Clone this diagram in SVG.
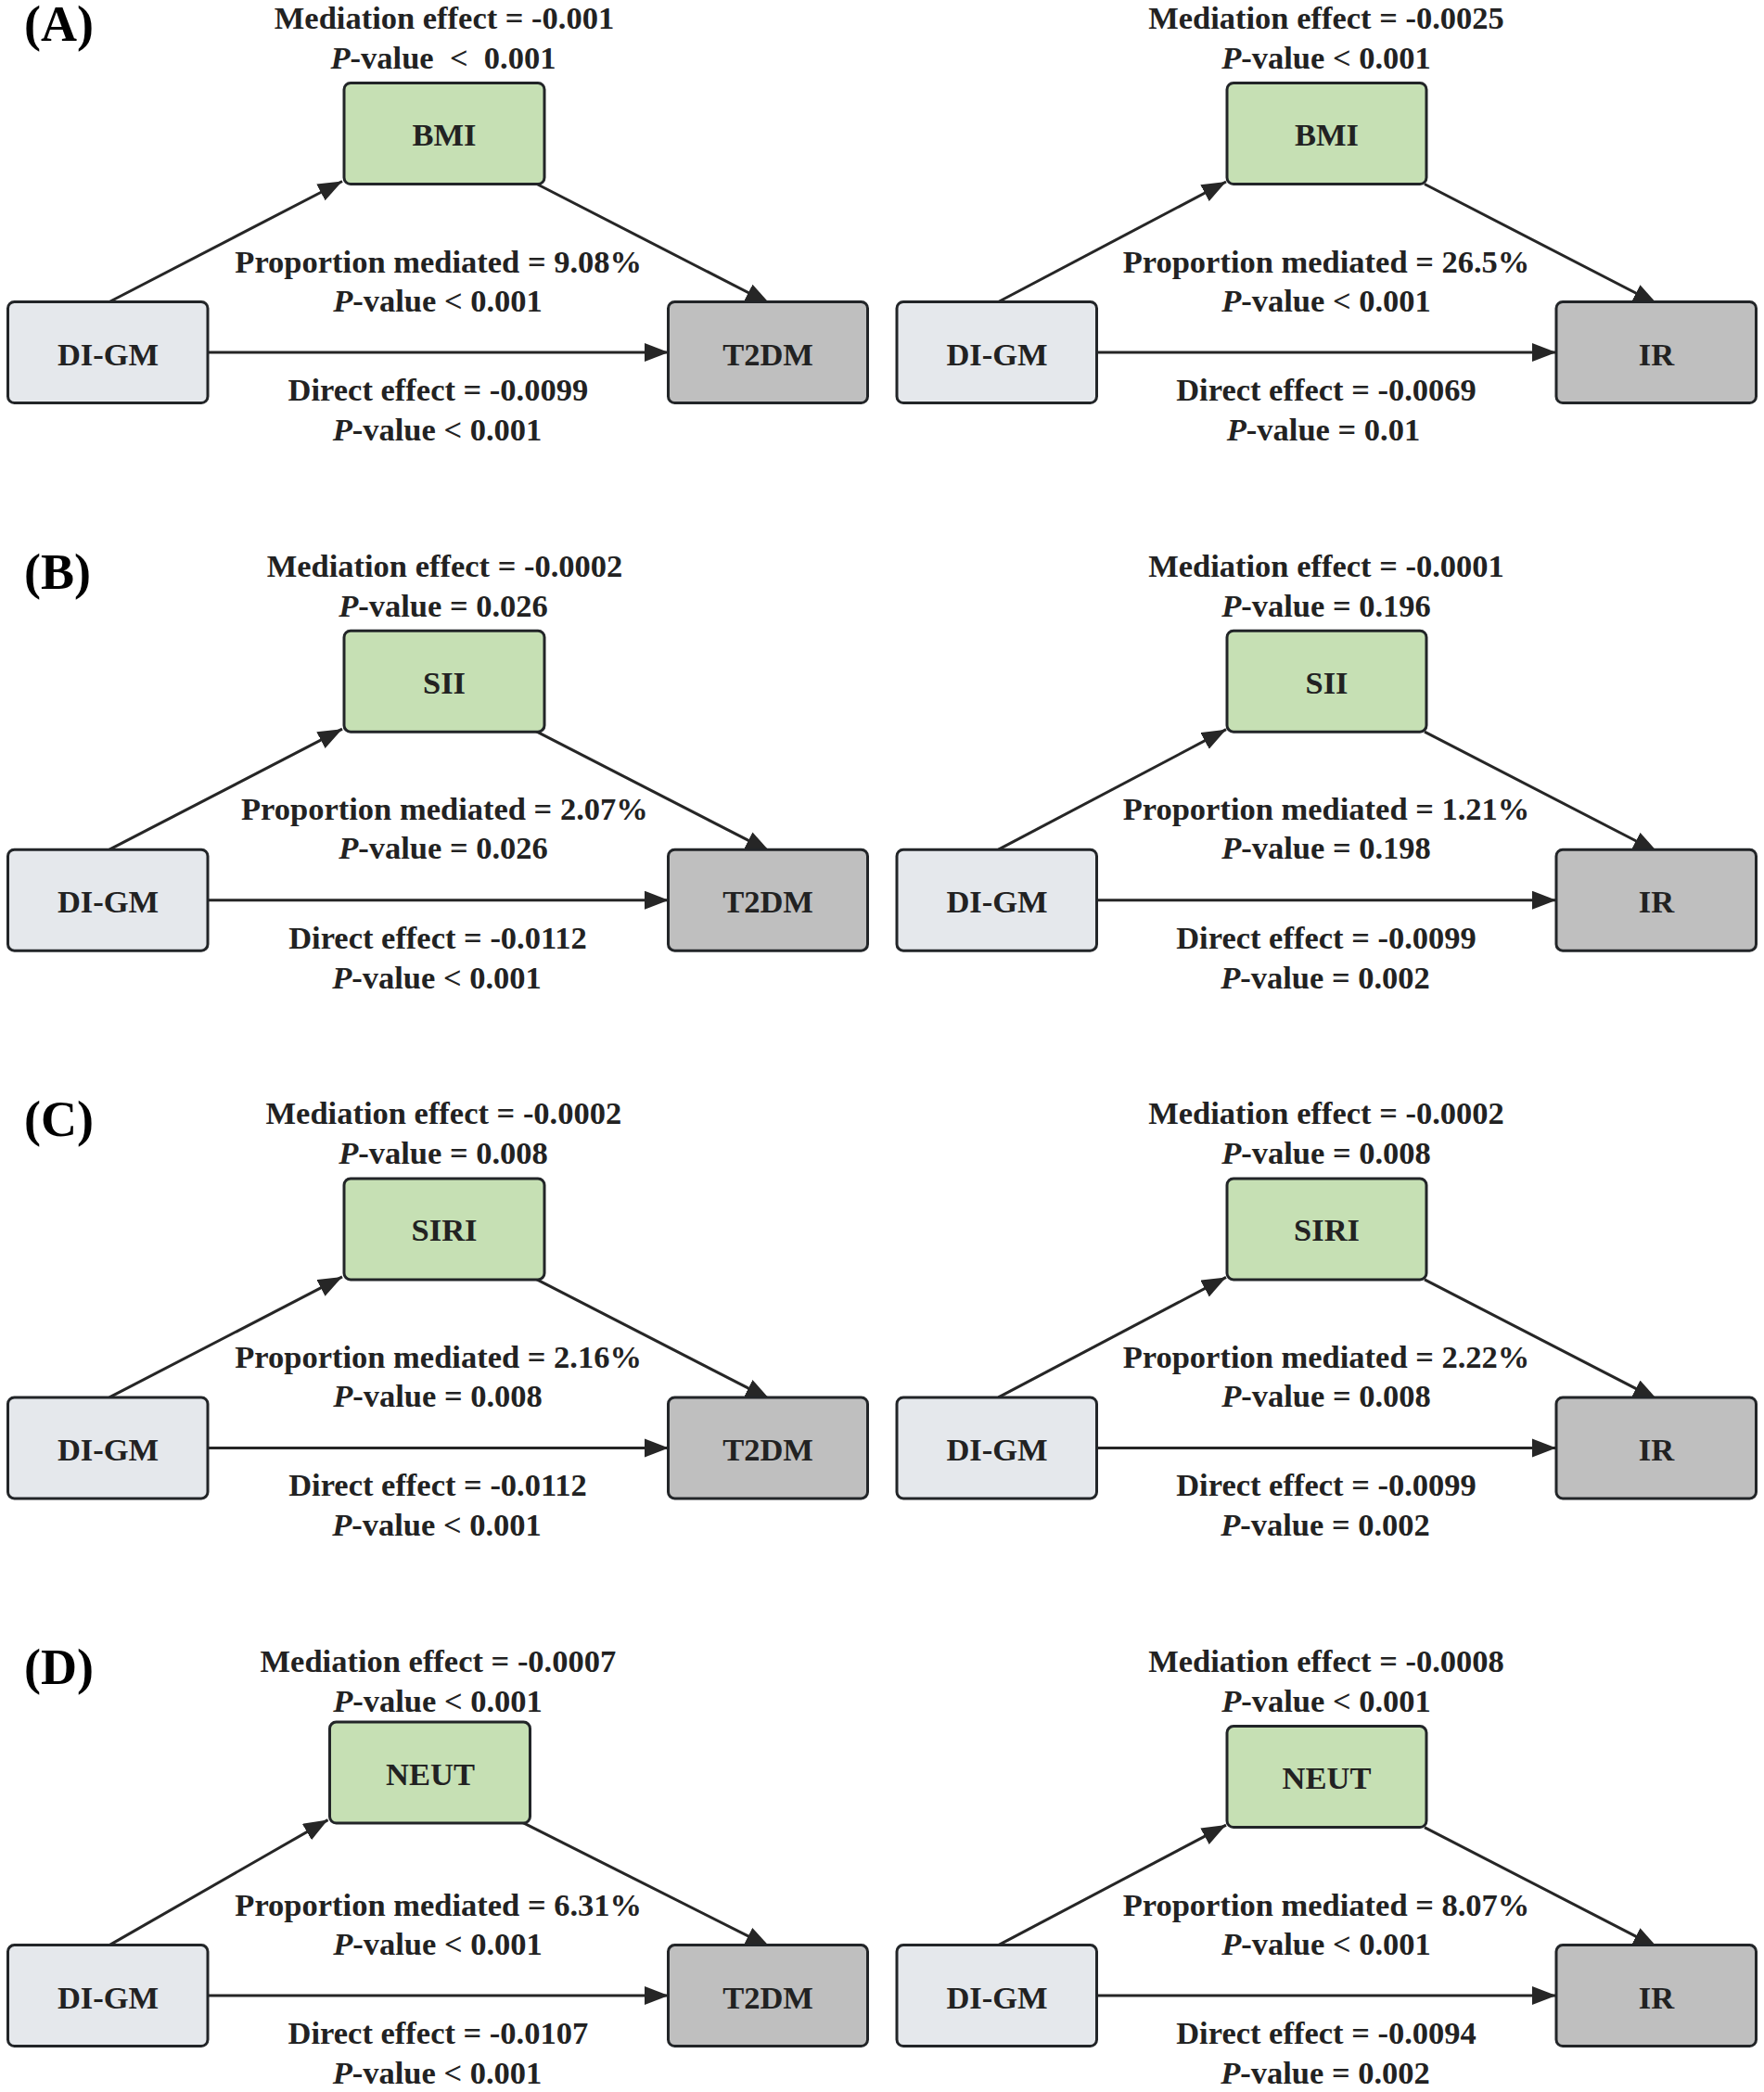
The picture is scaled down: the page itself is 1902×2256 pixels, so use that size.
<svg xmlns="http://www.w3.org/2000/svg" width="1902" height="2256" viewBox="0 0 1902 2256">
<defs>
<style>
.box{stroke:#222528;stroke-width:3}
.m{fill:#c6e0b4}
.x{fill:#e5e8ec}
.y{fill:#bfbfbf}
text{font-family:"Liberation Serif","Times New Roman",serif;font-weight:bold;fill:#222}
.t{font-size:34.5px;text-anchor:middle}
.pl{font-size:54px;fill:#000}
.c{stroke:#262626;stroke-width:3;fill:none;marker-end:url(#ah)}
.i{font-style:italic}
</style>
<marker id="ah" markerUnits="userSpaceOnUse" markerWidth="28" markerHeight="21" refX="26" refY="10" orient="auto">
<path d="M0,0 L26,10 L0,20 z" fill="#262626"/>
</marker>
</defs>
<rect width="1902" height="2256" fill="#fff"/>

<!-- Panel labels -->
<g id="panel-labels">
<text class="pl" x="26" y="44">(A)</text>
<text class="pl" x="26" y="635">(B)</text>
<text class="pl" x="26" y="1225">(C)</text>
<text class="pl" x="26" y="1816">(D)</text>
</g>

<!-- Connectors -->
<g id="connectors">
<g transform="translate(0,0)">
<path class="c" d="M224,380 L721,380"/>
<path class="c" d="M118,325.5 L369,195.5"/>
<path class="c" d="M578,198 L830,327.5"/>
<path class="c" d="M1182.5,380 L1678,380"/>
<path class="c" d="M1076.5,325.5 L1322,196"/>
<path class="c" d="M1536,198.5 L1787,328"/>
</g>
<g transform="translate(0,590.7)">
<path class="c" d="M224,380 L721,380"/>
<path class="c" d="M118,325.5 L369,195.5"/>
<path class="c" d="M578,198 L830,327.5"/>
<path class="c" d="M1182.5,380 L1678,380"/>
<path class="c" d="M1076.5,325.5 L1322,196"/>
<path class="c" d="M1536,198.5 L1787,328"/>
</g>
<g transform="translate(0,1181.4)">
<path class="c" d="M224,380 L721,380"/>
<path class="c" d="M118,325.5 L369,195.5"/>
<path class="c" d="M578,198 L830,327.5"/>
<path class="c" d="M1182.5,380 L1678,380"/>
<path class="c" d="M1076.5,325.5 L1322,196"/>
<path class="c" d="M1536,198.5 L1787,328"/>
</g>
<g transform="translate(0,1772.1)">
<path class="c" d="M224,380 L721,380"/>
<path class="c" d="M118,325.5 L353.5,190.5"/>
<path class="c" d="M563,193 L830,327.5"/>
<path class="c" d="M1182.5,380 L1678,380"/>
<path class="c" d="M1076.5,325.5 L1322,196"/>
<path class="c" d="M1536,198.5 L1787,328"/>
</g>
</g>

<!-- Row A -->
<g id="rowA">
<g id="A-L-DIGM"><rect class="box x" x="8.5" y="325.5" width="215.5" height="109" rx="7"/><text class="t" x="116.5" y="393.5">DI-GM</text></g>
<g id="A-L-T2DM"><rect class="box y" x="720.5" y="325.5" width="215" height="109" rx="7"/><text class="t" x="828" y="393.5">T2DM</text></g>
<g id="A-L-BMI"><rect class="box m" x="371" y="89.5" width="216" height="109" rx="7"/><text class="t" x="479" y="157">BMI</text></g>
<g id="A-L-labels">
<text class="t" x="479" y="31">Mediation effect = -0.001</text>
<text class="t" x="478" y="74"><tspan class="i">P</tspan>-value&#160;&#160;&lt;&#160;&#160;0.001</text>
<text class="t" x="472.7" y="293.5">Proportion mediated = 9.08%</text>
<text class="t" x="472" y="335.5"><tspan class="i">P</tspan>-value &lt; 0.001</text>
<text class="t" x="472.4" y="432">Direct effect = -0.0099</text>
<text class="t" x="471.5" y="475"><tspan class="i">P</tspan>-value &lt; 0.001</text>
</g>
<g id="A-R-DIGM"><rect class="box x" x="967" y="325.5" width="215.5" height="109" rx="7"/><text class="t" x="1075" y="393.5">DI-GM</text></g>
<g id="A-R-IR"><rect class="box y" x="1678" y="325.5" width="215.5" height="109" rx="7"/><text class="t" x="1786" y="393.5">IR</text></g>
<g id="A-R-BMI"><rect class="box m" x="1323" y="89.5" width="215" height="109" rx="7"/><text class="t" x="1430.5" y="157">BMI</text></g>
<g id="A-R-labels">
<text class="t" x="1430" y="31">Mediation effect = -0.0025</text>
<text class="t" x="1430" y="74"><tspan class="i">P</tspan>-value &lt; 0.001</text>
<text class="t" x="1430" y="293.5">Proportion mediated = 26.5%</text>
<text class="t" x="1430" y="335.5"><tspan class="i">P</tspan>-value &lt; 0.001</text>
<text class="t" x="1430" y="432">Direct effect = -0.0069</text>
<text class="t" x="1427" y="475"><tspan class="i">P</tspan>-value = 0.01</text>
</g>
</g>

<!-- Row B -->
<g id="rowB" transform="translate(0,590.7)">
<g id="B-L-DIGM"><rect class="box x" x="8.5" y="325.5" width="215.5" height="109" rx="7"/><text class="t" x="116.5" y="393.5">DI-GM</text></g>
<g id="B-L-T2DM"><rect class="box y" x="720.5" y="325.5" width="215" height="109" rx="7"/><text class="t" x="828" y="393.5">T2DM</text></g>
<g id="B-L-SII"><rect class="box m" x="371" y="89.5" width="216" height="109" rx="7"/><text class="t" x="479" y="157">SII</text></g>
<g id="B-L-labels">
<text class="t" x="479.5" y="31">Mediation effect = -0.0002</text>
<text class="t" x="478" y="74"><tspan class="i">P</tspan>-value = 0.026</text>
<text class="t" x="479.4" y="293.5">Proportion mediated = 2.07%</text>
<text class="t" x="478" y="335.5"><tspan class="i">P</tspan>-value = 0.026</text>
<text class="t" x="472" y="432">Direct effect = -0.0112</text>
<text class="t" x="471" y="475"><tspan class="i">P</tspan>-value &lt; 0.001</text>
</g>
<g id="B-R-DIGM"><rect class="box x" x="967" y="325.5" width="215.5" height="109" rx="7"/><text class="t" x="1075" y="393.5">DI-GM</text></g>
<g id="B-R-IR"><rect class="box y" x="1678" y="325.5" width="215.5" height="109" rx="7"/><text class="t" x="1786" y="393.5">IR</text></g>
<g id="B-R-SII"><rect class="box m" x="1323" y="89.5" width="215" height="109" rx="7"/><text class="t" x="1430.5" y="157">SII</text></g>
<g id="B-R-labels">
<text class="t" x="1430" y="31">Mediation effect = -0.0001</text>
<text class="t" x="1430" y="74"><tspan class="i">P</tspan>-value = 0.196</text>
<text class="t" x="1430" y="293.5">Proportion mediated = 1.21%</text>
<text class="t" x="1430" y="335.5"><tspan class="i">P</tspan>-value = 0.198</text>
<text class="t" x="1430" y="432">Direct effect = -0.0099</text>
<text class="t" x="1429" y="475"><tspan class="i">P</tspan>-value = 0.002</text>
</g>
</g>

<!-- Row C -->
<g id="rowC" transform="translate(0,1181.4)">
<g id="C-L-DIGM"><rect class="box x" x="8.5" y="325.5" width="215.5" height="109" rx="7"/><text class="t" x="116.5" y="393.5">DI-GM</text></g>
<g id="C-L-T2DM"><rect class="box y" x="720.5" y="325.5" width="215" height="109" rx="7"/><text class="t" x="828" y="393.5">T2DM</text></g>
<g id="C-L-SIRI"><rect class="box m" x="371" y="89.5" width="216" height="109" rx="7"/><text class="t" x="479" y="157">SIRI</text></g>
<g id="C-L-labels">
<text class="t" x="478.4" y="31">Mediation effect = -0.0002</text>
<text class="t" x="478" y="74"><tspan class="i">P</tspan>-value = 0.008</text>
<text class="t" x="472.6" y="293.5">Proportion mediated = 2.16%</text>
<text class="t" x="472" y="335.5"><tspan class="i">P</tspan>-value = 0.008</text>
<text class="t" x="472" y="432">Direct effect = -0.0112</text>
<text class="t" x="471" y="475"><tspan class="i">P</tspan>-value &lt; 0.001</text>
</g>
<g id="C-R-DIGM"><rect class="box x" x="967" y="325.5" width="215.5" height="109" rx="7"/><text class="t" x="1075" y="393.5">DI-GM</text></g>
<g id="C-R-IR"><rect class="box y" x="1678" y="325.5" width="215.5" height="109" rx="7"/><text class="t" x="1786" y="393.5">IR</text></g>
<g id="C-R-SIRI"><rect class="box m" x="1323" y="89.5" width="215" height="109" rx="7"/><text class="t" x="1430.5" y="157">SIRI</text></g>
<g id="C-R-labels">
<text class="t" x="1430" y="31">Mediation effect = -0.0002</text>
<text class="t" x="1430" y="74"><tspan class="i">P</tspan>-value = 0.008</text>
<text class="t" x="1430" y="293.5">Proportion mediated = 2.22%</text>
<text class="t" x="1430" y="335.5"><tspan class="i">P</tspan>-value = 0.008</text>
<text class="t" x="1430" y="432">Direct effect = -0.0099</text>
<text class="t" x="1429" y="475"><tspan class="i">P</tspan>-value = 0.002</text>
</g>
</g>

<!-- Row D -->
<g id="rowD" transform="translate(0,1772.1)">
<g id="D-L-DIGM"><rect class="box x" x="8.5" y="325.5" width="215.5" height="109" rx="7"/><text class="t" x="116.5" y="393.5">DI-GM</text></g>
<g id="D-L-T2DM"><rect class="box y" x="720.5" y="325.5" width="215" height="109" rx="7"/><text class="t" x="828" y="393.5">T2DM</text></g>
<g id="D-L-NEUT"><rect class="box m" x="355.5" y="85" width="216" height="109" rx="7"/><text class="t" x="464" y="152.5">NEUT</text></g>
<g id="D-L-labels">
<text class="t" x="472.4" y="31">Mediation effect = -0.0007</text>
<text class="t" x="472" y="74"><tspan class="i">P</tspan>-value &lt; 0.001</text>
<text class="t" x="472.7" y="293.5">Proportion mediated = 6.31%</text>
<text class="t" x="472" y="335.5"><tspan class="i">P</tspan>-value &lt; 0.001</text>
<text class="t" x="472.4" y="432">Direct effect = -0.0107</text>
<text class="t" x="471.5" y="475"><tspan class="i">P</tspan>-value &lt; 0.001</text>
</g>
<g id="D-R-DIGM"><rect class="box x" x="967" y="325.5" width="215.5" height="109" rx="7"/><text class="t" x="1075" y="393.5">DI-GM</text></g>
<g id="D-R-IR"><rect class="box y" x="1678" y="325.5" width="215.5" height="109" rx="7"/><text class="t" x="1786" y="393.5">IR</text></g>
<g id="D-R-NEUT"><rect class="box m" x="1323" y="89.5" width="215" height="109" rx="7"/><text class="t" x="1430.5" y="157">NEUT</text></g>
<g id="D-R-labels">
<text class="t" x="1430" y="31">Mediation effect = -0.0008</text>
<text class="t" x="1430" y="74"><tspan class="i">P</tspan>-value &lt; 0.001</text>
<text class="t" x="1430" y="293.5">Proportion mediated = 8.07%</text>
<text class="t" x="1430" y="335.5"><tspan class="i">P</tspan>-value &lt; 0.001</text>
<text class="t" x="1430" y="432">Direct effect = -0.0094</text>
<text class="t" x="1429" y="475"><tspan class="i">P</tspan>-value = 0.002</text>
</g>
</g>
</svg>
